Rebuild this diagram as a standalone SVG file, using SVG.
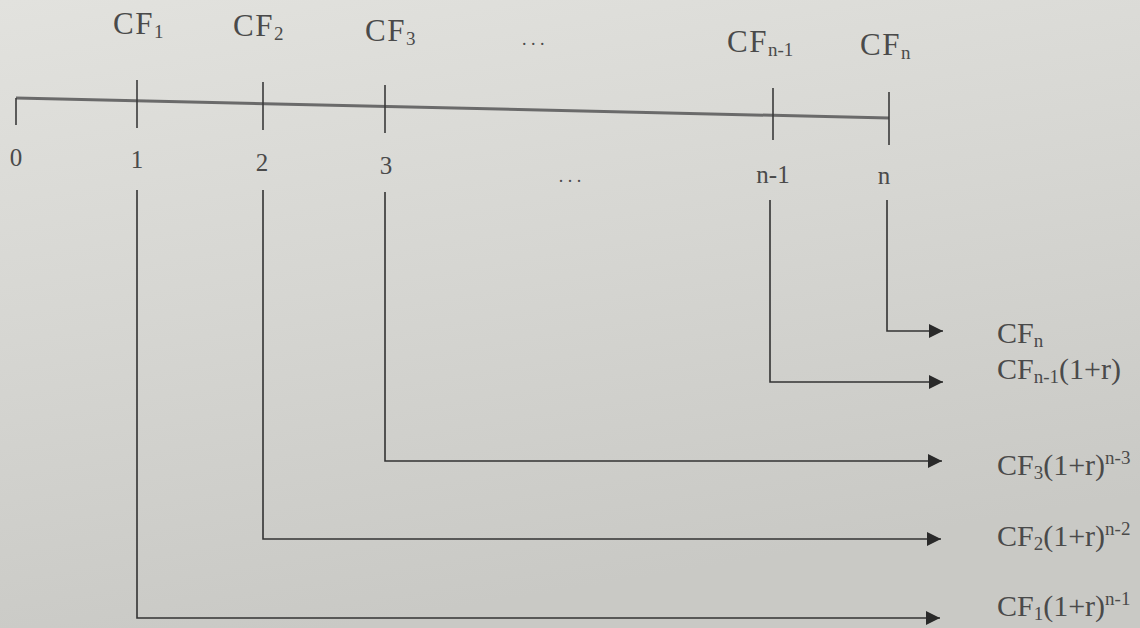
<svg xmlns="http://www.w3.org/2000/svg" width="1140" height="628" viewBox="0 0 1140 628">
<defs>
<linearGradient id="bg" x1="0" y1="0" x2="0.3" y2="1">
<stop offset="0" stop-color="#e2e2de"/>
<stop offset="0.5" stop-color="#d6d6d2"/>
<stop offset="1" stop-color="#c9c9c5"/>
</linearGradient>
<marker id="ah" viewBox="0 0 10 10" refX="10" refY="5" markerWidth="16" markerHeight="14" markerUnits="userSpaceOnUse" orient="auto">
<path d="M0,0 L10,5 L0,10 Z" fill="#2a2a2a"/>
</marker>
<style>
.t{font-family:"Liberation Serif","Times New Roman",serif;font-size:31px;fill:#4a4a4a;letter-spacing:1.5px}
.r{font-family:"Liberation Serif","Times New Roman",serif;font-size:30px;fill:#4a4a4a}
.n{font-family:"Liberation Serif","Times New Roman",serif;font-size:25px;fill:#4a4a4a}
.s{font-size:19px;letter-spacing:0}
.tick{stroke:#3a3a3a;stroke-width:1.6;fill:none}
.conn{stroke:#333;stroke-width:1.6;fill:none;marker-end:url(#ah)}
</style>
</defs>
<rect width="1140" height="628" fill="url(#bg)"/>
<g id="axis">
<line x1="16" y1="98" x2="889" y2="118" stroke="#6a6a6a" stroke-width="3"/>
<line class="tick" x1="16" y1="98" x2="16" y2="125"/>
<line class="tick" x1="137" y1="80" x2="137" y2="128"/>
<line class="tick" x1="263" y1="82" x2="263" y2="130"/>
<line class="tick" x1="385" y1="85" x2="385" y2="133"/>
<line class="tick" x1="773" y1="88" x2="773" y2="140"/>
<line class="tick" x1="889" y1="92" x2="889" y2="145"/>
</g>
<g id="top-labels">
<text class="t" x="113" y="34">CF<tspan class="s" dy="4">1</tspan></text>
<text class="t" x="233" y="36">CF<tspan class="s" dy="4">2</tspan></text>
<text class="t" x="365" y="41">CF<tspan class="s" dy="4">3</tspan></text>
<text class="n" x="522" y="45" style="font-size:18px">. . .</text>
<text class="t" x="727" y="52">CF<tspan class="s" dy="4">n-1</tspan></text>
<text class="t" x="860" y="55">CF<tspan class="s" dy="4">n</tspan></text>
</g>
<g id="bottom-labels">
<text class="n" x="16" y="166" text-anchor="middle">0</text>
<text class="n" x="137" y="168" text-anchor="middle">1</text>
<text class="n" x="262" y="171" text-anchor="middle">2</text>
<text class="n" x="386" y="174" text-anchor="middle">3</text>
<text class="n" x="570" y="182" text-anchor="middle" style="font-size:18px">. . .</text>
<text class="n" x="773" y="183" text-anchor="middle">n-1</text>
<text class="n" x="884" y="184" text-anchor="middle">n</text>
</g>
<g id="connectors">
<path class="conn" d="M887,200 V331 H943"/>
<path class="conn" d="M770,200 V382 H943"/>
<path class="conn" d="M385,192 V461 H942"/>
<path class="conn" d="M263,190 V539 H941"/>
<path class="conn" d="M137,190 V618 H940"/>
</g>
<g id="result-labels">
<text class="r" x="997" y="343">CF<tspan class="s" dy="4">n</tspan></text>
<text class="r" x="997" y="379">CF<tspan class="s" dy="4">n-1</tspan><tspan dy="-4">(1+r)</tspan></text>
<text class="r" x="997" y="475">CF<tspan class="s" dy="4">3</tspan><tspan dy="-4">(1+r)</tspan><tspan class="s" dy="-11">n-3</tspan></text>
<text class="r" x="997" y="546">CF<tspan class="s" dy="4">2</tspan><tspan dy="-4">(1+r)</tspan><tspan class="s" dy="-11">n-2</tspan></text>
<text class="r" x="997" y="616">CF<tspan class="s" dy="4">1</tspan><tspan dy="-4">(1+r)</tspan><tspan class="s" dy="-11">n-1</tspan></text>
</g>
</svg>
